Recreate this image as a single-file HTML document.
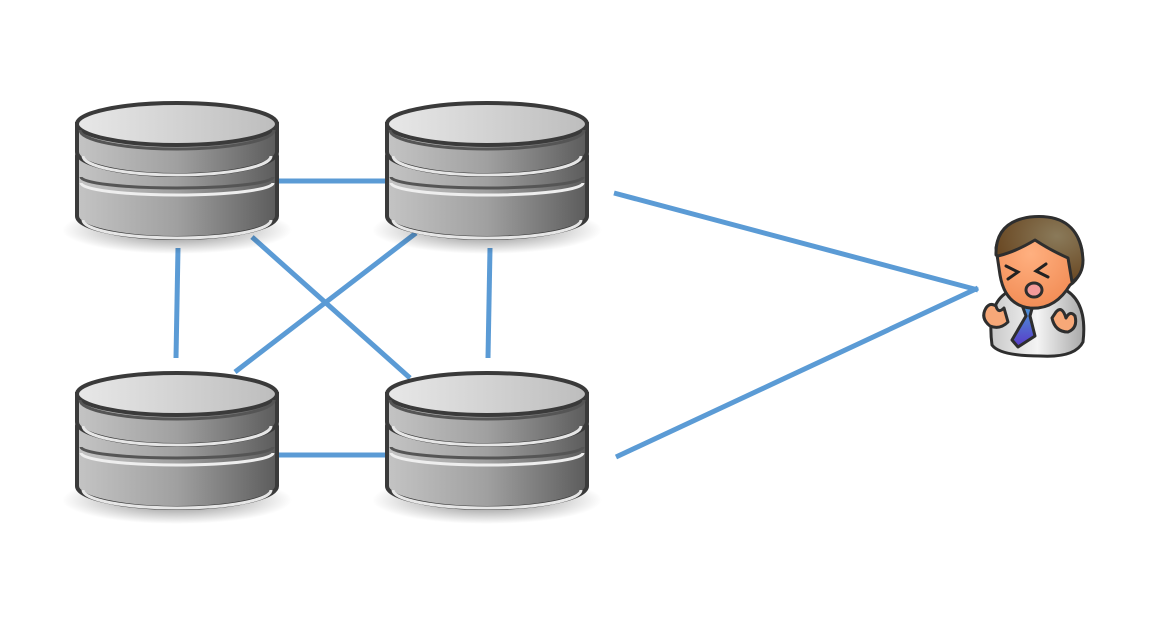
<!DOCTYPE html>
<html><head><meta charset="utf-8"><style>html,body{margin:0;padding:0;background:#fff}svg{display:block}</style></head>
<body>
<svg width="1176" height="622" viewBox="0 0 1176 622" xmlns="http://www.w3.org/2000/svg">
<defs>
<linearGradient id="side" x1="0" x2="1" y1="0" y2="0">
<stop offset="0" stop-color="#c4c4c4"/><stop offset="0.5" stop-color="#a0a0a0"/><stop offset="1" stop-color="#5c5c5c"/>
</linearGradient>
<linearGradient id="top" x1="0" x2="1" y1="0" y2="0">
<stop offset="0" stop-color="#e8e8e8"/><stop offset="1" stop-color="#bdbdbd"/>
</linearGradient>
<radialGradient id="sh" cx="0.5" cy="0.5" r="0.5">
<stop offset="0" stop-color="#000" stop-opacity="0.5"/><stop offset="1" stop-color="#000" stop-opacity="0"/>
</radialGradient>
<radialGradient id="hair" cx="0.7" cy="0.3" r="0.7"><stop offset="0" stop-color="#8a7a5a"/><stop offset="1" stop-color="#6b4a25"/></radialGradient>
<radialGradient id="face" cx="0.4" cy="0.4" r="0.7"><stop offset="0" stop-color="#ffb080"/><stop offset="1" stop-color="#f08850"/></radialGradient>
<linearGradient id="body" x1="0" x2="1"><stop offset="0" stop-color="#c8c8c8"/><stop offset="0.5" stop-color="#f4f4f4"/><stop offset="1" stop-color="#a8a8a8"/></linearGradient>
<linearGradient id="tie" x1="0" x2="0" y1="0" y2="1"><stop offset="0" stop-color="#4a9ad8"/><stop offset="1" stop-color="#5a3ac8"/></linearGradient>
<g id="db">
<ellipse cx="102" cy="130" rx="115" ry="24" fill="url(#sh)"/>
<path d="M2,56 A100,21 0 0 1 202,56 L202,116 A100,22 0 0 1 2,116 Z" fill="url(#side)" stroke="#3a3a3a" stroke-width="4"/>
<path d="M6,83 A96,12 0 0 0 198,83" fill="none" stroke="#eeeeee" stroke-width="3"/>
<path d="M6,77 A96,11 0 0 0 198,77" fill="none" stroke="#555" stroke-width="3"/>
<path d="M8,120 A94,18 0 0 0 196,120" fill="none" stroke="#e6e6e6" stroke-width="3"/>
<path d="M2,24 L2,52 A100,23 0 0 0 202,52 L202,24 Z" fill="url(#side)" stroke="#3a3a3a" stroke-width="4"/>
<path d="M8,56 A94,19 0 0 0 196,56" fill="none" stroke="#e6e6e6" stroke-width="3"/>
<ellipse cx="102" cy="24" rx="100" ry="21" fill="url(#top)" stroke="#3a3a3a" stroke-width="4"/>
<path d="M5,30 A97,19 0 0 0 199,30" fill="none" stroke="#555" stroke-width="3"/>
</g>
</defs>
<g stroke="#5b9bd5" stroke-width="5" fill="none">
<line x1="278" y1="181" x2="390" y2="181"/>
<line x1="178" y1="248" x2="176" y2="358"/>
<line x1="252" y1="237" x2="410" y2="378"/>
<line x1="416" y1="233" x2="235" y2="372"/>
<line x1="490" y1="248" x2="488" y2="358"/>
<line x1="278" y1="455" x2="390" y2="455"/>
<line x1="614" y1="193" x2="978" y2="290"/>
<line x1="616" y1="457" x2="978" y2="288"/>
</g>
<use href="#db" x="75" y="100"/>
<use href="#db" x="385" y="100"/>
<use href="#db" x="75" y="370"/>
<use href="#db" x="385" y="370"/>
<g stroke="#2e2e2e" stroke-width="3" stroke-linejoin="round">
<path d="M992,345 Q986,300 1012,290 L1062,288 Q1088,300 1083,342 Q1075,358 1040,356 Q1000,356 992,345 Z" fill="url(#body)"/>
<path d="M1022,305 L1033,305 L1030,316 L1035,336 L1018,347 L1012,340 L1026,316 Z" fill="url(#tie)"/>
<path d="M996,248 Q1000,222 1030,218 Q1075,214 1082,250 Q1085,275 1070,285 Q1055,310 1030,308 Q1005,305 1000,275 Z" fill="url(#face)"/>
<path d="M996,255 Q995,222 1030,217 Q1080,212 1083,260 Q1083,275 1072,282 L1068,258 Q1050,250 1035,240 Q1015,252 998,256 Z" fill="url(#hair)"/>
<path d="M986,308 Q980,318 990,326 Q1000,330 1008,322 L1004,308 Q998,314 996,306 Q990,302 986,308 Z" fill="#f7a878"/>
<path d="M1052,318 Q1055,332 1068,332 Q1078,328 1075,316 Q1070,310 1066,318 Q1062,305 1056,312 Z" fill="#f7a878"/>
<ellipse cx="1034" cy="290" rx="8" ry="7" fill="#f49a9a"/>
</g>
<g stroke="#222" stroke-width="3" fill="none" stroke-linecap="round">
<path d="M1006,266 L1018,272 L1008,279"/>
<path d="M1046,264 L1036,271 L1048,277"/>
</g>
</svg>
</body></html>
